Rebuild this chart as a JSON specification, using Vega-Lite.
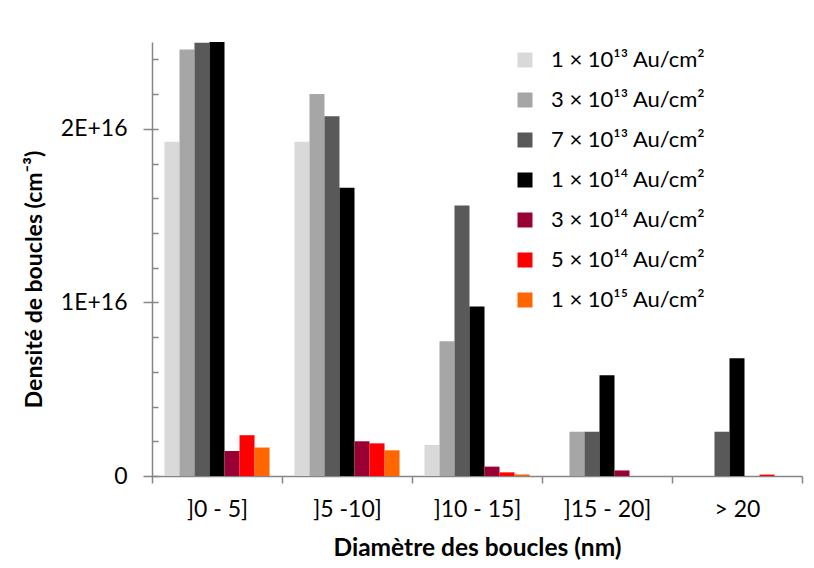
{
  "$schema": "https://vega.github.io/schema/vega-lite/v6.json",
  "width": 650,
  "height": 434,
  "autosize": {"type": "none"},
  "padding": {"left": 152, "top": 42, "right": 12, "bottom": 92},
  "background": "white",
  "config": {
    "font": "Lato",
    "view": {"stroke": null},
    "axis": {"domainColor": "#868686", "tickColor": "#868686", "labelColor": "#000000", "titleColor": "#000000", "grid": false}
  },
  "data": {
    "values": [
      {"cat": "]0 - 5]", "dose": "1 × 10¹³ Au/cm²", "v": 1.925e16},
      {"cat": "]0 - 5]", "dose": "3 × 10¹³ Au/cm²", "v": 2.457e16},
      {"cat": "]0 - 5]", "dose": "7 × 10¹³ Au/cm²", "v": 2.495e16},
      {"cat": "]0 - 5]", "dose": "1 × 10¹⁴ Au/cm²", "v": 2.5e16},
      {"cat": "]0 - 5]", "dose": "3 × 10¹⁴ Au/cm²", "v": 1.44e15},
      {"cat": "]0 - 5]", "dose": "5 × 10¹⁴ Au/cm²", "v": 2.35e15},
      {"cat": "]0 - 5]", "dose": "1 × 10¹⁵ Au/cm²", "v": 1.64e15},
      {"cat": "]5 -10]", "dose": "1 × 10¹³ Au/cm²", "v": 1.925e16},
      {"cat": "]5 -10]", "dose": "3 × 10¹³ Au/cm²", "v": 2.2e16},
      {"cat": "]5 -10]", "dose": "7 × 10¹³ Au/cm²", "v": 2.073e16},
      {"cat": "]5 -10]", "dose": "1 × 10¹⁴ Au/cm²", "v": 1.66e16},
      {"cat": "]5 -10]", "dose": "3 × 10¹⁴ Au/cm²", "v": 2.0e15},
      {"cat": "]5 -10]", "dose": "5 × 10¹⁴ Au/cm²", "v": 1.88e15},
      {"cat": "]5 -10]", "dose": "1 × 10¹⁵ Au/cm²", "v": 1.48e15},
      {"cat": "]10 - 15]", "dose": "1 × 10¹³ Au/cm²", "v": 1.79e15},
      {"cat": "]10 - 15]", "dose": "3 × 10¹³ Au/cm²", "v": 7.76e15},
      {"cat": "]10 - 15]", "dose": "7 × 10¹³ Au/cm²", "v": 1.558e16},
      {"cat": "]10 - 15]", "dose": "1 × 10¹⁴ Au/cm²", "v": 9.76e15},
      {"cat": "]10 - 15]", "dose": "3 × 10¹⁴ Au/cm²", "v": 5.4e14},
      {"cat": "]10 - 15]", "dose": "5 × 10¹⁴ Au/cm²", "v": 2.1e14},
      {"cat": "]10 - 15]", "dose": "1 × 10¹⁵ Au/cm²", "v": 9e13},
      {"cat": "]15 - 20]", "dose": "1 × 10¹³ Au/cm²", "v": 0},
      {"cat": "]15 - 20]", "dose": "3 × 10¹³ Au/cm²", "v": 2.55e15},
      {"cat": "]15 - 20]", "dose": "7 × 10¹³ Au/cm²", "v": 2.55e15},
      {"cat": "]15 - 20]", "dose": "1 × 10¹⁴ Au/cm²", "v": 5.8e15},
      {"cat": "]15 - 20]", "dose": "3 × 10¹⁴ Au/cm²", "v": 3.2e14},
      {"cat": "]15 - 20]", "dose": "5 × 10¹⁴ Au/cm²", "v": 0},
      {"cat": "]15 - 20]", "dose": "1 × 10¹⁵ Au/cm²", "v": 0},
      {"cat": "> 20", "dose": "1 × 10¹³ Au/cm²", "v": 0},
      {"cat": "> 20", "dose": "3 × 10¹³ Au/cm²", "v": 0},
      {"cat": "> 20", "dose": "7 × 10¹³ Au/cm²", "v": 2.55e15},
      {"cat": "> 20", "dose": "1 × 10¹⁴ Au/cm²", "v": 6.78e15},
      {"cat": "> 20", "dose": "3 × 10¹⁴ Au/cm²", "v": 0},
      {"cat": "> 20", "dose": "5 × 10¹⁴ Au/cm²", "v": 8e13},
      {"cat": "> 20", "dose": "1 × 10¹⁵ Au/cm²", "v": 0}
    ]
  },
  "layer": [
    {
      "mark": {"type": "tick", "opacity": 0},
      "encoding": {
        "y": {
          "field": "v", "type": "quantitative",
          "scale": {"domain": [0, 2.5e16], "nice": false, "zero": true},
          "axis": {"orient": "left", "values": [0, 2e15, 4e15, 6e15, 8e15, 1e16, 1.2e16, 1.4e16, 1.6e16, 1.8e16, 2e16, 2.2e16, 2.4e16], "tickSize": -6, "tickWidth": 1.5, "labels": false, "domain": false, "title": null}
        }
      }
    },
    {
      "mark": {"type": "bar"},
      "encoding": {
        "x": {
          "field": "cat", "type": "nominal",
          "sort": ["]0 - 5]", "]5 -10]", "]10 - 15]", "]15 - 20]", "> 20"],
          "scale": {"paddingInner": 0, "paddingOuter": 0},
          "axis": {"title": "Diamètre des boucles (nm)", "labelAngle": 0, "tickBand": "extent", "tickSize": 7, "labelFontSize": 23, "labelPadding": 15, "titleFontSize": 24.5, "titleFontWeight": "bold", "titlePadding": 15, "domainWidth": 1.5, "tickWidth": 1.5}
        },
        "xOffset": {
          "field": "dose", "type": "nominal",
          "sort": ["1 × 10¹³ Au/cm²", "3 × 10¹³ Au/cm²", "7 × 10¹³ Au/cm²", "1 × 10¹⁴ Au/cm²", "3 × 10¹⁴ Au/cm²", "5 × 10¹⁴ Au/cm²", "1 × 10¹⁵ Au/cm²"],
          "scale": {"paddingInner": 0, "paddingOuter": 0.83}
        },
        "y": {
          "field": "v", "type": "quantitative",
          "scale": {"domain": [0, 2.5e16], "nice": false, "zero": true},
          "axis": {"orient": "left", "values": [0, 1e16, 2e16], "tickSize": 9, "labelExpr": "datum.value == 0 ? '0' : (datum.value / 1e16) + 'E+16'", "labelFontSize": 23, "labelPadding": 16, "title": "Densité de boucles (cm⁻³)", "titleFontSize": 23, "titleFontWeight": "bold", "titlePadding": 14, "titleY": 237, "domainWidth": 1.5, "tickWidth": 1.5}
        },
        "color": {
          "field": "dose", "type": "nominal",
          "sort": ["1 × 10¹³ Au/cm²", "3 × 10¹³ Au/cm²", "7 × 10¹³ Au/cm²", "1 × 10¹⁴ Au/cm²", "3 × 10¹⁴ Au/cm²", "5 × 10¹⁴ Au/cm²", "1 × 10¹⁵ Au/cm²"],
          "scale": {"range": ["#d9d9d9", "#a6a6a6", "#595959", "#000000", "#990033", "#ff0000", "#ff6600"]},
          "legend": {"title": null, "orient": "none", "legendX": 362, "legendY": 7, "symbolType": "square", "symbolSize": 225, "symbolStrokeWidth": 0, "labelFontSize": 22, "labelOffset": 15, "rowPadding": 18, "padding": 0, "labelLimit": 300}
        }
      }
    }
  ],
  "resolve": {"axis": {"y": "independent"}}
}
